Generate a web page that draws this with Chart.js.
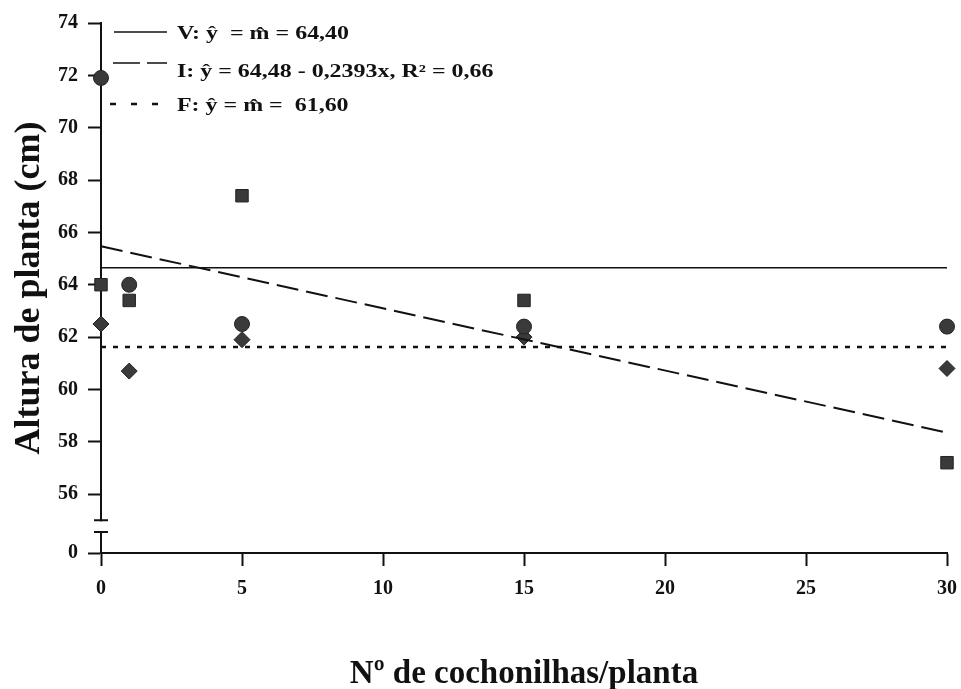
<!DOCTYPE html>
<html>
<head>
<meta charset="utf-8">
<script src="https://cdn.jsdelivr.net/npm/chart.js@4/dist/chart.umd.min.js"></script>
<style>
  body { margin: 0; background: #fff; }
  #wrap { width: 961px; height: 689px; }
</style>
</head>
<body>
<div id="wrap"><canvas id="grafico"></canvas></div>
<script>
// doses (numero de cochonilhas por planta)
const doses = [0, 1, 5, 15, 30];
// altura de planta (cm)
const alturaV = [71.9, 64.0, 62.5, 62.4, 62.4];   // circulos
const alturaI = [64.0, 63.4, 67.4, 63.4, 57.2];   // quadrados
const alturaF = [62.5, 60.7, 61.9, 62.0, 60.8];   // losangos
// retas ajustadas (extremos x = 0 e x = 30)
const ajusteX = [0, 30];
const ajusteV = [64.65, 64.65];
const ajusteI = [65.47, 58.35];
const ajusteF = [61.62, 61.62];
// eixos
const xTicks = [0, 5, 10, 15, 20, 25, 30];
const yTicks = [56, 58, 60, 62, 64, 66, 68, 70, 72, 74];
const yZero = 53.75;   // posicao do "0" abaixo da quebra do eixo
const quebra = [54.55, 55.0];
const legendas = [
  'V: \u0177  = m\u0302 = 64,40',
  'I: \u0177 = 64,48 - 0,2393x, R\u00B2 = 0,66',
  'F: \u0177 = m\u0302 =  61,60'
];

const cor = '#3a3a3a';
const fonte = 'Liberation Serif';

function pontos(ys) {
  return doses.map((d, i) => ({ x: d, y: ys[i] }));
}
function reta(ys) {
  return ajusteX.map((d, i) => ({ x: d, y: ys[i] }));
}

// quebra do eixo y e legenda desenhada a mao
const extras = {
  id: 'extras',
  afterDraw(chart) {
    const ctx = chart.ctx;
    const y = chart.scales.y;
    const x0 = y.right;
    const p1 = y.getPixelForValue(quebra[1]);
    const p0 = y.getPixelForValue(quebra[0]);
    ctx.save();
    ctx.fillStyle = '#fff';
    ctx.fillRect(x0 - 4, p1 + 1, 8, p0 - p1 - 2);
    ctx.strokeStyle = '#111';
    ctx.lineWidth = 2;
    ctx.beginPath();
    ctx.moveTo(x0 - 7, p1); ctx.lineTo(x0 + 7, p1);
    ctx.moveTo(x0 - 7, p0); ctx.lineTo(x0 + 7, p0);
    ctx.stroke();

    // legenda
    const estilos = [[], [27, 7], [6, 15]];
    const linhasY = [32, 63, 104];
    const baseY = [39, 77, 111];
    const inicio = [114, 113, 110];
    const fim = [167, 167, 158];
    ctx.strokeStyle = '#111';
    ctx.fillStyle = '#111';
    ctx.font = 'bold 18px "' + fonte + '"';
    ctx.textBaseline = 'alphabetic';
    legendas.forEach((t, i) => {
      ctx.setLineDash(estilos[i]);
      ctx.lineWidth = i === 2 ? 2.5 : 1.5;
      ctx.beginPath();
      ctx.moveTo(inicio[i], linhasY[i]);
      ctx.lineTo(fim[i], linhasY[i]);
      ctx.stroke();
      // texto esticado na horizontal como no original
      ctx.save();
      ctx.translate(177, baseY[i]);
      ctx.scale(1.33, 1);
      ctx.fillText(t, 0, 0);
      ctx.restore();
    });
    ctx.restore();
  }
};

const marcador = (ys, estilo, raio) => ({
  type: 'scatter',
  data: pontos(ys),
  pointStyle: estilo,
  pointRadius: raio,
  pointHoverRadius: raio,
  backgroundColor: cor,
  borderColor: '#222',
  borderWidth: 1,
  clip: false
});
const linha = (ys, dash, larg) => ({
  type: 'line',
  data: reta(ys),
  borderColor: '#111',
  borderWidth: larg,
  borderDash: dash,
  pointRadius: 0,
  fill: false,
  clip: false
});

new Chart(document.getElementById('grafico'), {
  type: 'scatter',
  data: {
    datasets: [
      linha(ajusteV, [], 1.5),
      linha(ajusteI, [22, 8], 2),
      linha(ajusteF, [5, 7], 2.5),
      marcador(alturaV, 'circle', 7.5),
      marcador(alturaI, 'rect', 8.8),
      marcador(alturaF, 'rectRot', 8)
    ]
  },
  options: {
    responsive: true,
    maintainAspectRatio: false,
    animation: false,
    layout: { padding: { top: 23, right: 14, left: 0, bottom: 0 } },
    plugins: { legend: { display: false }, tooltip: { enabled: false } },
    scales: {
      x: {
        type: 'linear',
        min: 0,
        max: 30,
        afterBuildTicks: s => { s.ticks = xTicks.map(v => ({ value: v })); },
        afterFit: s => { s.height = 136; s.paddingRight = 0; s.paddingLeft = 0; },
        grid: { drawOnChartArea: false, tickLength: 13, tickWidth: 2, color: '#111' },
        border: { display: true, color: '#111', width: 2 },
        ticks: {
          color: '#111',
          padding: 11,
          maxRotation: 0,
          font: { family: fonte, size: 20, weight: 'bold' }
        },
        title: {
          display: true,
          text: 'N\u00BA de cochonilhas/planta',
          color: '#111',
          padding: { top: 0, bottom: 1 },
          font: { family: fonte, size: 33, weight: 'bold', lineHeight: 0.8 }
        }
      },
      y: {
        type: 'linear',
        min: yZero,
        max: 74,
        afterBuildTicks: s => {
          s.ticks = [{ value: yZero }].concat(yTicks.map(v => ({ value: v })));
        },
        afterFit: s => { s.width = 101; },
        grid: { drawOnChartArea: false, tickLength: 13, tickWidth: 2, color: '#111' },
        border: { display: true, color: '#111', width: 2 },
        ticks: {
          color: '#111',
          padding: 10,
          font: { family: fonte, size: 20, weight: 'bold' },
          callback: v => (v === yZero ? '0' : String(v))
        },
        title: {
          display: true,
          text: 'Altura de planta (cm)',
          color: '#111',
          padding: { top: 12, bottom: 0 },
          font: { family: fonte, size: 36, weight: 'bold', lineHeight: 1 }
        }
      }
    }
  },
  plugins: [extras]
});
</script>
</body>
</html>
